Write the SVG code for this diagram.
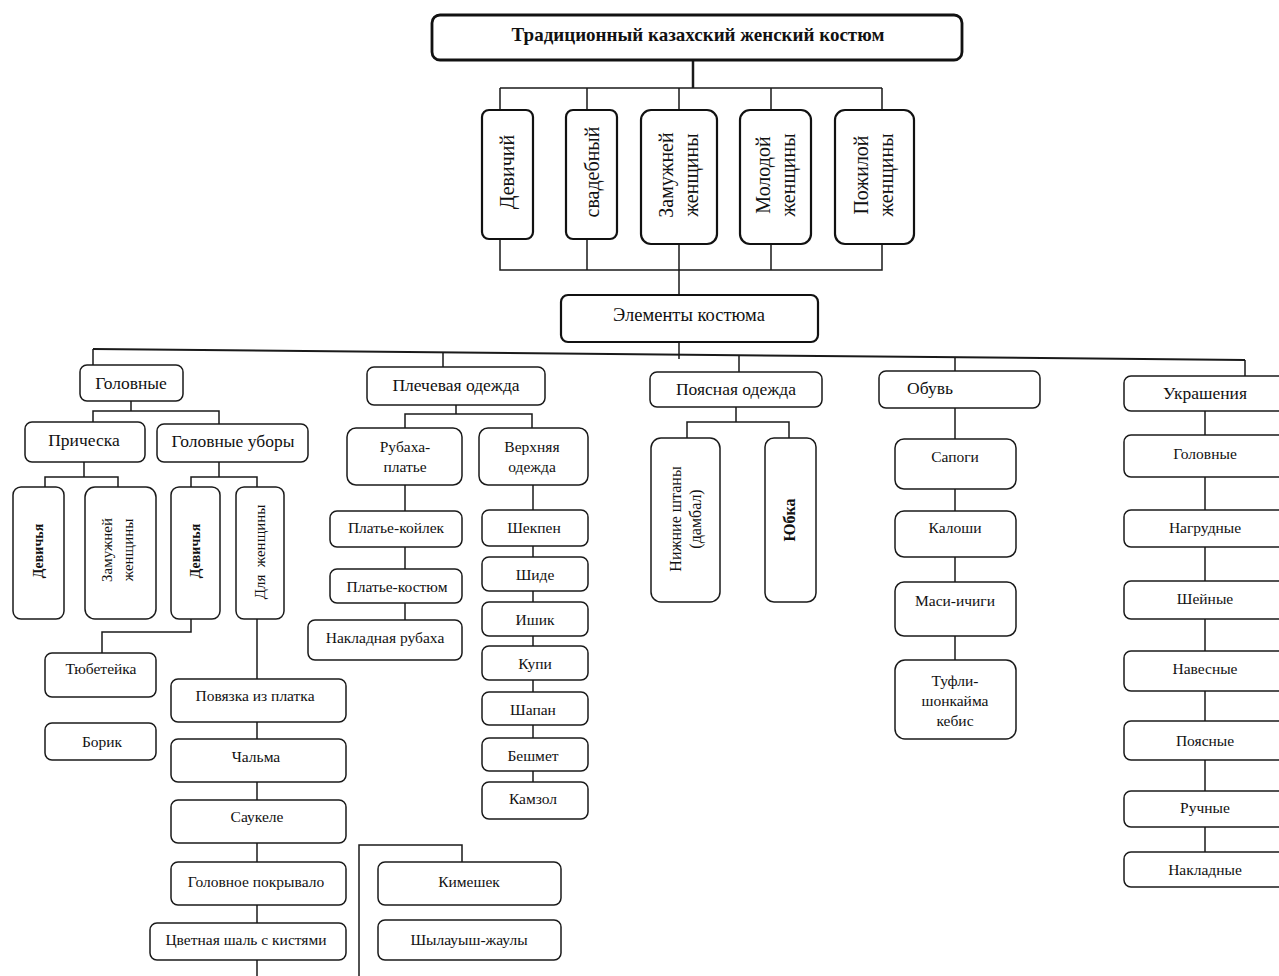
<svg xmlns="http://www.w3.org/2000/svg" width="1279" height="976" viewBox="0 0 1279 976">
<style>
.b{fill:#fff;stroke:#1a1a1a;stroke-width:1.5}
.bk{fill:#fff;stroke:#111;stroke-width:2.2}
.c{fill:none;stroke:#1a1a1a;stroke-width:1.5}
.t{font-family:"Liberation Serif","DejaVu Serif",serif;font-size:15.5px;fill:#111;text-anchor:middle}
.m{font-size:17.5px}
.v{font-size:20px}
.s{font-size:15px}
.bold{font-weight:bold}
</style>
<rect width="1279" height="976" fill="#fff"/>
<g id="connectors">
<path class="c" style="stroke-width:2.5" d="M693 60V88"/>
<path class="c" d="M500 88H882M500 88V110M587 88V110M679 88V110M771 88V110M882 88V110"/>
<path class="c" d="M500 239V270H882V244M587 239V270M771 244V270M679 244V295"/>
<path class="c" d="M679 342V359"/>
<path class="c" style="stroke-width:2" d="M93 349L1245 360"/>
<path class="c" d="M93 349V365M443 352V367M739 355V372M955 357V371M1245 360V376"/>
<path class="c" d="M131 401V411H93V422M131 411H219V424"/>
<path class="c" d="M84 462V477H45V487M84 477H118V487"/>
<path class="c" d="M219 462V477H191V487M219 477H257V487"/>
<path class="c" d="M191 619V632H102V653"/>
<path class="c" d="M257 619V976"/>
<path class="c" d="M359 976V845H462V862"/>
<path class="c" d="M456 405V414H405V428M456 414H532V428"/>
<path class="c" d="M405 485V620"/>
<path class="c" d="M533 485V782"/>
<path class="c" d="M736 407V422H687V438M736 422H789V438"/>
<path class="c" d="M955 408V660"/>
<path class="c" d="M1205 411V852"/>
</g>
<g id="title"><rect class="bk" style="stroke-width:2.8" x="432" y="15" width="530" height="45" rx="8"/><text class="t bold" style="font-size:19px" x="698" y="41">Традиционный казахский женский костюм</text></g>
<g id="devichiy"><rect class="bk" x="482" y="110" width="51" height="129" rx="7"/><text class="t v" transform="translate(507,172) rotate(-90)" y="7">Девичий</text></g>
<g id="svadebny"><rect class="bk" x="566" y="110" width="51" height="129" rx="7"/><text class="t v" transform="translate(592,172) rotate(-90)" y="7">свадебный</text></g>
<g id="zamuzh"><rect class="bk" x="641" y="110" width="76" height="134" rx="10"/><text class="t v" transform="translate(679,175) rotate(-90)"><tspan x="0" y="-6">Замужней</tspan><tspan x="0" y="19">женщины</tspan></text></g>
<g id="molodoy"><rect class="bk" x="740" y="110" width="71" height="134" rx="10"/><text class="t v" transform="translate(776,175) rotate(-90)"><tspan x="0" y="-6">Молодой</tspan><tspan x="0" y="19">женщины</tspan></text></g>
<g id="pozhiloy"><rect class="bk" x="835" y="110" width="79" height="134" rx="10"/><text class="t v" transform="translate(874,175) rotate(-90)"><tspan x="0" y="-6">Пожилой</tspan><tspan x="0" y="19">женщины</tspan></text></g>
<g id="elementy"><rect class="bk" x="561" y="295" width="257" height="47" rx="7"/><text class="t" style="font-size:18.5px" x="689" y="321">Элементы костюма</text></g>
<g id="golovnye"><rect class="b" x="80" y="365" width="103" height="36" rx="7"/><text class="t m" x="131" y="389">Головные</text></g>
<g id="plechevaya"><rect class="b" x="367" y="367" width="178" height="38" rx="7"/><text class="t m" x="456" y="391">Плечевая одежда</text></g>
<g id="poyasnaya"><rect class="b" x="650" y="372" width="172" height="35" rx="7"/><text class="t m" x="736" y="395">Поясная одежда</text></g>
<g id="obuv"><rect class="b" x="879" y="371" width="161" height="37" rx="7"/><text class="t m" x="930" y="394">Обувь</text></g>
<g id="ukrasheniya"><rect class="b" x="1124" y="376" width="165" height="35" rx="7"/><text class="t m" x="1205" y="399">Украшения</text></g>
<g id="pricheska"><rect class="b" x="25" y="422" width="120" height="40" rx="7"/><text class="t m" x="84" y="446">Прическа</text></g>
<g id="golovnye-ubory"><rect class="b" x="157" y="424" width="151" height="38" rx="7"/><text class="t m" x="233" y="447">Головные уборы</text></g>
<g id="p-devichya"><rect class="b" x="13" y="487" width="51" height="132" rx="8"/><text class="t bold" style="font-size:14px" transform="translate(38,551) rotate(-90)" y="5">Девичья</text></g>
<g id="p-zamuzh"><rect class="b" x="85" y="487" width="71" height="132" rx="10"/><text class="t s" transform="translate(118,550) rotate(-90)"><tspan x="0" y="-6">Замужней</tspan><tspan x="0" y="15">женщины</tspan></text></g>
<g id="g-devichya"><rect class="b" x="171" y="487" width="49" height="132" rx="8"/><text class="t bold" style="font-size:14px" transform="translate(195,551) rotate(-90)" y="5">Девичья</text></g>
<g id="g-dlya"><rect class="b" x="236" y="487" width="48" height="132" rx="8"/><text class="t s" transform="translate(260,552) rotate(-90)" y="5" xml:space="preserve">Для  женщины</text></g>
<g id="tyubeteyka"><rect class="b" x="45" y="653" width="111" height="44" rx="7"/><text class="t" x="101" y="674">Тюбетейка</text></g>
<g id="borik"><rect class="b" x="45" y="723" width="111" height="37" rx="7"/><text class="t" x="102" y="747">Борик</text></g>
<g id="povyazka"><rect class="b" x="171" y="679" width="175" height="43" rx="7"/><text class="t" x="255" y="701">Повязка из платка</text></g>
<g id="chalma"><rect class="b" x="171" y="739" width="175" height="43" rx="7"/><text class="t" x="256" y="762">Чальма</text></g>
<g id="saukele"><rect class="b" x="171" y="800" width="175" height="43" rx="7"/><text class="t" x="257" y="822">Саукеле</text></g>
<g id="pokryvalo"><rect class="b" x="171" y="862" width="175" height="43" rx="7"/><text class="t" x="256" y="887">Головное покрывало</text></g>
<g id="shal"><rect class="b" x="150" y="923" width="196" height="37" rx="7"/><text class="t" x="246" y="945">Цветная шаль с кистями</text></g>
<g id="kimeshek"><rect class="b" x="378" y="862" width="183" height="43" rx="7"/><text class="t" x="469" y="887">Кимешек</text></g>
<g id="shylauysh"><rect class="b" x="378" y="920" width="183" height="40" rx="7"/><text class="t" x="469" y="945">Шылауыш-жаулы</text></g>
<g id="rubaha"><rect class="b" x="347" y="428" width="115" height="57" rx="9"/><text class="t"><tspan x="405" y="452">Рубаха-</tspan><tspan x="405" y="472">платье</tspan></text></g>
<g id="verhnyaya"><rect class="b" x="479" y="428" width="109" height="57" rx="9"/><text class="t"><tspan x="532" y="452">Верхняя</tspan><tspan x="532" y="472">одежда</tspan></text></g>
<g id="koylek"><rect class="b" x="330" y="511" width="132" height="36" rx="7"/><text class="t" x="396" y="533">Платье-койлек</text></g>
<g id="kostyum"><rect class="b" x="330" y="569" width="132" height="34" rx="7"/><text class="t" x="397" y="592">Платье-костюм</text></g>
<g id="nakladnaya-rubaha"><rect class="b" x="308" y="620" width="154" height="40" rx="7"/><text class="t" x="385" y="643">Накладная рубаха</text></g>
<g id="shekpen"><rect class="b" x="482" y="510" width="106" height="36" rx="7"/><text class="t" x="534" y="533">Шекпен</text></g>
<g id="shide"><rect class="b" x="482" y="557" width="106" height="34" rx="7"/><text class="t" x="535" y="580">Шиде</text></g>
<g id="ishik"><rect class="b" x="482" y="602" width="106" height="34" rx="7"/><text class="t" x="535" y="625">Ишик</text></g>
<g id="kupi"><rect class="b" x="482" y="646" width="106" height="34" rx="7"/><text class="t" x="535" y="669">Купи</text></g>
<g id="shapan"><rect class="b" x="482" y="692" width="106" height="33" rx="7"/><text class="t" x="533" y="715">Шапан</text></g>
<g id="beshmet"><rect class="b" x="482" y="738" width="106" height="33" rx="7"/><text class="t" x="533" y="761">Бешмет</text></g>
<g id="kamzol"><rect class="b" x="482" y="782" width="106" height="37" rx="7"/><text class="t" x="533" y="804">Камзол</text></g>
<g id="shtany"><rect class="b" x="651" y="438" width="69" height="164" rx="10"/><text class="t" style="font-size:16px" transform="translate(686,519) rotate(-90)"><tspan x="0" y="-5">Нижние штаны</tspan><tspan x="0" y="15">(дамбал)</tspan></text></g>
<g id="yubka"><rect class="b" x="765" y="438" width="51" height="164" rx="9"/><text class="t bold" style="font-size:16px" transform="translate(790,520) rotate(-90)" y="5">Юбка</text></g>
<g id="sapogi"><rect class="b" x="895" y="439" width="121" height="50" rx="9"/><text class="t" x="955" y="462">Сапоги</text></g>
<g id="kaloshi"><rect class="b" x="895" y="511" width="121" height="46" rx="9"/><text class="t" x="955" y="533">Калоши</text></g>
<g id="masi"><rect class="b" x="895" y="582" width="121" height="54" rx="9"/><text class="t" x="955" y="606">Маси-ичиги</text></g>
<g id="tufli"><rect class="b" x="895" y="660" width="121" height="79" rx="10"/><text class="t"><tspan x="955" y="686">Туфли-</tspan><tspan x="955" y="706">шонкайма</tspan><tspan x="955" y="726">кебис</tspan></text></g>
<g id="u-golovnye"><rect class="b" x="1124" y="435" width="165" height="42" rx="7"/><text class="t" x="1205" y="459">Головные</text></g>
<g id="u-nagrudnye"><rect class="b" x="1124" y="510" width="165" height="37" rx="7"/><text class="t" x="1205" y="533">Нагрудные</text></g>
<g id="u-sheynye"><rect class="b" x="1124" y="581" width="165" height="38" rx="7"/><text class="t" x="1205" y="604">Шейные</text></g>
<g id="u-navesnye"><rect class="b" x="1124" y="651" width="165" height="40" rx="7"/><text class="t" x="1205" y="674">Навесные</text></g>
<g id="u-poyasnye"><rect class="b" x="1124" y="721" width="165" height="39" rx="7"/><text class="t" x="1205" y="746">Поясные</text></g>
<g id="u-ruchnye"><rect class="b" x="1124" y="791" width="165" height="36" rx="7"/><text class="t" x="1205" y="813">Ручные</text></g>
<g id="u-nakladnye"><rect class="b" x="1124" y="852" width="165" height="35" rx="7"/><text class="t" x="1205" y="875">Накладные</text></g>
</svg>
